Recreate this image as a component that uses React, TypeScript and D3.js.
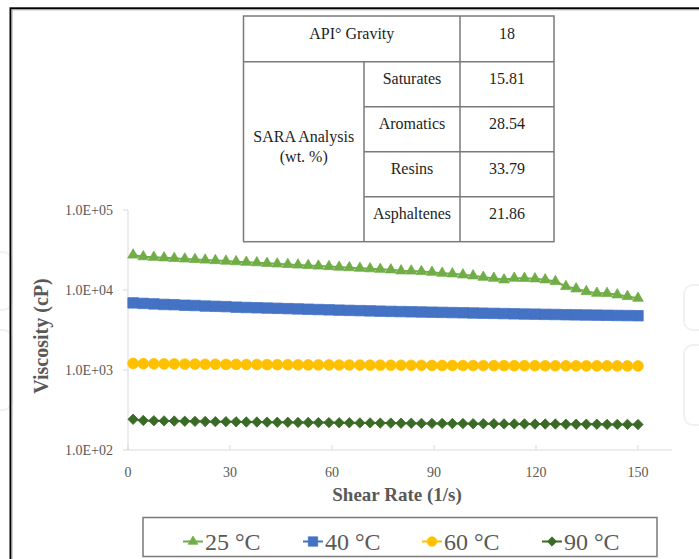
import React, { useEffect, useRef } from 'react';
import * as d3 from 'd3';

const shearRate = [
  1.5, 4.5, 7.6, 10.6, 13.6, 16.7, 19.7, 22.7, 25.7, 28.8,
  31.8, 34.8, 37.9, 40.9, 43.9, 47.0, 50.0, 53.0, 56.0, 59.1,
  62.1, 65.1, 68.2, 71.2, 74.2, 77.3, 80.3, 83.3, 86.3, 89.4,
  92.4, 95.4, 98.5, 101.5, 104.5, 107.6, 110.6, 113.6, 116.6, 119.7,
  122.7, 125.7, 128.8, 131.8, 134.8, 137.9, 140.9, 143.9, 146.9, 150.0,
];

// viscosity (cP)
const visc25 = [
  27400, 26070, 25670, 25270, 24870, 24480, 24100, 23710, 23340, 22980,
  22620, 22260, 21920, 21580, 21230, 20900, 20570, 20260, 19950, 19640,
  19330, 19040, 18740, 18450, 18160, 17890, 17380, 17300, 17030, 16690,
  16220, 15940, 15490, 15050, 14450, 14050, 13420, 14050, 14000, 13800,
  13420, 12780, 11060, 10350, 9570, 9120, 9080, 8710, 8300, 7900,
];
const visc40 = [
  6900, 6800, 6700, 6600, 6550, 6450, 6400, 6300, 6250, 6200,
  6100, 6050, 6000, 5950, 5900, 5850, 5800, 5750, 5700, 5650,
  5600, 5560, 5520, 5480, 5440, 5400, 5370, 5340, 5310, 5280,
  5250, 5220, 5190, 5160, 5130, 5100, 5070, 5040, 5010, 4990,
  4960, 4940, 4910, 4890, 4870, 4850, 4830, 4810, 4790, 4770,
];
const visc60 = [
  1210, 1200, 1195, 1190, 1190, 1185, 1185, 1180, 1180, 1175,
  1175, 1170, 1170, 1168, 1165, 1165, 1162, 1160, 1160, 1158,
  1155, 1155, 1152, 1150, 1150, 1148, 1146, 1145, 1144, 1142,
  1140, 1140, 1138, 1137, 1136, 1135, 1134, 1133, 1132, 1131,
  1130, 1130, 1129, 1128, 1127, 1127, 1126, 1125, 1125, 1124,
];
const visc90 = [
  242, 234, 232, 231, 230, 229, 228, 227, 226, 226,
  225, 224, 224, 223, 222, 222, 221, 221, 220, 220,
  219, 219, 218, 218, 217, 217, 216, 216, 215, 215,
  215, 214, 214, 213, 213, 213, 212, 212, 212, 211,
  211, 211, 210, 210, 210, 210, 209, 209, 209, 208,
];

const seriesLabels = ['25 °C', '40 °C', '60 °C', '90 °C'];
const xTickValues = [0, 30, 60, 90, 120, 150];
const yTickValues = [1e2, 1e3, 1e4, 1e5];
const yTickLabels = ['1.0E+02', '1.0E+03', '1.0E+04', '1.0E+05'];

const apiGravity = '18';
const saraLabels = ['Saturates', 'Aromatics', 'Resins', 'Asphaltenes'];
const saraValues = ['15.81', '28.54', '33.79', '21.86'];

const W = 699;
const H = 559;

const ViscosityChart: React.FC = () => {
  const svgRef = useRef<SVGSVGElement>(null);

  useEffect(() => {
    if (!svgRef.current) return;
    const svg = d3.select(svgRef.current);
    svg.selectAll('*').remove();

    const serif = '"Liberation Serif", "Times New Roman", serif';
    const grey = '#595959';
    const axisGrey = '#d9d9d9';

    // faint watermark outlines at the edges
    const wm = svg.append('g').attr('fill', 'none').attr('stroke', '#f1f1f1').attr('stroke-width', 2);
    wm.append('rect').attr('x', -40).attr('y', 252).attr('width', 52).attr('height', 58).attr('rx', 9);
    wm.append('rect').attr('x', -40).attr('y', 330).attr('width', 52).attr('height', 80).attr('rx', 9);
    wm.append('rect').attr('x', 684).attr('y', 285).attr('width', 60).attr('height', 45).attr('rx', 9);
    wm.append('rect').attr('x', 684).attr('y', 345).attr('width', 60).attr('height', 80).attr('rx', 9);

    // outer frame (right and bottom out of view)
    svg.append('rect')
      .attr('x', 10.5).attr('y', 8.3).attr('width', W).attr('height', H)
      .attr('fill', 'none').attr('stroke', '#000').attr('stroke-width', 2);
    svg.append('rect')
      .attr('x', 12).attr('y', 9.8).attr('width', W).attr('height', H)
      .attr('fill', 'none').attr('stroke', '#a0a0a0').attr('stroke-width', 1);

    const x = d3.scaleLinear().domain([0, 160]).range([128, 672]);
    const y = d3.scaleLog().domain([100, 1e5]).range([450, 210]);

    // axes
    const axes = svg.append('g').attr('stroke', axisGrey).attr('stroke-width', 1);
    axes.append('line').attr('x1', x(0)).attr('x2', x(0)).attr('y1', y(1e5)).attr('y2', y(100));
    axes.append('line').attr('x1', x(0)).attr('x2', x(160)).attr('y1', y(100)).attr('y2', y(100));
    axes.selectAll('.yt').data(yTickValues).join('line')
      .attr('x1', x(0) - 5).attr('x2', x(0)).attr('y1', d => y(d)).attr('y2', d => y(d));
    axes.selectAll('.xt').data(xTickValues).join('line')
      .attr('x1', d => x(d)).attr('x2', d => x(d)).attr('y1', y(100) - 5).attr('y2', y(100));

    svg.append('g').selectAll('text').data(yTickValues).join('text')
      .attr('x', 113).attr('y', d => y(d)).attr('dy', '0.34em')
      .attr('text-anchor', 'end').attr('font-family', serif).attr('font-size', 14).attr('fill', grey)
      .text((d, i) => yTickLabels[i]);

    svg.append('g').selectAll('text').data(xTickValues).join('text')
      .attr('x', d => x(d)).attr('y', 476.5)
      .attr('text-anchor', 'middle').attr('font-family', serif).attr('font-size', 14).attr('fill', grey)
      .text(d => String(d));

    svg.append('text')
      .attr('x', 397).attr('y', 501)
      .attr('text-anchor', 'middle').attr('font-family', serif).attr('font-size', 19)
      .attr('font-weight', 'bold').attr('fill', grey)
      .text('Shear Rate (1/s)');

    svg.append('text')
      .attr('transform', 'translate(48,336) rotate(-90)')
      .attr('text-anchor', 'middle').attr('font-family', serif).attr('font-size', 20)
      .attr('font-weight', 'bold').attr('fill', grey)
      .text('Viscosity (cP)');

    // series
    const series = [
      { values: visc25, color: '#70AD47', shape: d3.symbolTriangle, size: 50, rot: 0 },
      { values: visc40, color: '#4472C4', shape: d3.symbolSquare, size: 110, rot: 0 },
      { values: visc60, color: '#FFC000', shape: d3.symbolCircle, size: 90, rot: 0 },
      { values: visc90, color: '#3A6B26', shape: d3.symbolSquare, size: 54, rot: 45 },
    ];

    const line = d3.line<number>()
      .x((d, i) => x(shearRate[i]))
      .y(d => y(d));

    series.forEach(s => {
      const g = svg.append('g');
      g.append('path')
        .datum(s.values)
        .attr('fill', 'none')
        .attr('stroke', s.color)
        .attr('stroke-width', 2)
        .attr('d', line);
      const sym = d3.symbol().type(s.shape).size(s.size);
      g.selectAll('path.m').data(s.values).join('path')
        .attr('class', 'm')
        .attr('d', sym)
        .attr('transform', (d, i) => `translate(${x(shearRate[i])},${y(d)}) rotate(${s.rot})`)
        .attr('fill', s.color)
        .attr('stroke', s.color)
        .attr('stroke-width', 0.75);
    });

    // property table
    const t = svg.append('g');
    const tx0 = 243.5, tx1 = 364, tx2 = 460, tx3 = 554;
    const ty = [16, 61.7, 106.7, 151.7, 196.7, 241.7];
    const lines = t.append('g').attr('stroke', '#7a7a7a').attr('stroke-width', 1.5);
    lines.append('rect').attr('x', tx0).attr('y', ty[0]).attr('width', tx3 - tx0).attr('height', ty[5] - ty[0])
      .attr('fill', '#fff');
    lines.append('line').attr('x1', tx2).attr('x2', tx2).attr('y1', ty[0]).attr('y2', ty[5]);
    lines.append('line').attr('x1', tx1).attr('x2', tx1).attr('y1', ty[1]).attr('y2', ty[5]);
    lines.append('line').attr('x1', tx0).attr('x2', tx3).attr('y1', ty[1]).attr('y2', ty[1]);
    [2, 3, 4].forEach(k => {
      lines.append('line').attr('x1', tx1).attr('x2', tx3).attr('y1', ty[k]).attr('y2', ty[k]);
    });

    const cell = (cx: number, cy: number, str: string) =>
      t.append('text').attr('x', cx).attr('y', cy)
        .attr('text-anchor', 'middle').attr('font-family', serif).attr('font-size', 16)
        .attr('fill', '#1e1e1e').text(str);

    cell((tx0 + tx2) / 2, ty[0] + 22.5, 'API° Gravity');
    cell((tx2 + tx3) / 2, ty[0] + 22.5, apiGravity);
    saraLabels.forEach((lab, i) => {
      cell((tx1 + tx2) / 2, ty[i + 1] + 22.5, lab);
      cell((tx2 + tx3) / 2, ty[i + 1] + 22.5, saraValues[i]);
    });
    cell((tx0 + tx1) / 2, 141.5, 'SARA Analysis');
    cell((tx0 + tx1) / 2, 162, '(wt. %)');

    // legend
    const lg = svg.append('g');
    lg.append('rect').attr('x', 143).attr('y', 517.5).attr('width', 514).attr('height', 39)
      .attr('fill', '#fff').attr('stroke', '#7a7a7a').attr('stroke-width', 1.5);
    const itemX = [183, 303, 422, 542];
    series.forEach((s, i) => {
      const lx = itemX[i];
      const ly = 541.5;
      lg.append('line').attr('x1', lx).attr('x2', lx + 20).attr('y1', ly).attr('y2', ly)
        .attr('stroke', s.color).attr('stroke-width', 2);
      lg.append('path')
        .attr('d', d3.symbol().type(s.shape).size(s.size * 0.8)())
        .attr('transform', `translate(${lx + 10},${ly}) rotate(${s.rot})`)
        .attr('fill', s.color).attr('stroke', s.color).attr('stroke-width', 0.75);
      lg.append('text').attr('x', lx + 22).attr('y', 549.5)
        .attr('font-family', serif).attr('font-size', 24).attr('fill', grey)
        .text(seriesLabels[i]);
    });
  }, []);

  return <svg ref={svgRef} width={W} height={H} style={{ position: 'absolute', left: 0, top: 0, background: '#fff' }}></svg>;
};

export default function App() {
  return <ViscosityChart />;
}
